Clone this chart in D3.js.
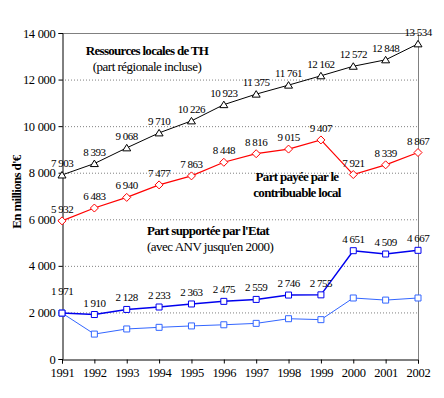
<!DOCTYPE html>
<html>
<head>
<meta charset="utf-8">
<script src="https://cdn.jsdelivr.net/npm/d3@7"></script>
<style>
  body { margin: 0; background: #fff; }
</style>
</head>
<body>
<svg id="chart"></svg>
<script>
const years = [1991, 1992, 1993, 1994, 1995, 1996, 1997, 1998, 1999, 2000, 2001, 2002];
const ressources = [7903, 8393, 9068, 9710, 10226, 10923, 11375, 11761, 12162, 12572, 12848, 13534];
const contribuable = [5932, 6483, 6940, 7477, 7863, 8448, 8816, 9015, 9407, 7921, 8339, 8867];
const etat = [1971, 1910, 2128, 2233, 2363, 2475, 2559, 2746, 2755, 4651, 4509, 4667];
const etatHorsAnv = [1971, 1070, 1290, 1360, 1420, 1470, 1530, 1730, 1690, 2620, 2530, 2620];
const yTicks = [0, 2000, 4000, 6000, 8000, 10000, 12000, 14000];

const width = 444, height = 398;
const margin = { top: 33, right: 26, bottom: 39, left: 62 };
const FONT = "'Liberation Serif', 'Times New Roman', Tinos, serif";

const svg = d3.select('#chart').attr('width', width).attr('height', height).attr('font-family', FONT);

const x = d3.scaleLinear().domain([1991, 2002]).range([margin.left, width - margin.right]);
const y = d3.scaleLinear().domain([0, 14000]).range([height - margin.bottom, margin.top]);

// french number format, space as thousands separator
const fmt = d3.formatLocale({ decimal: ',', thousands: ' ', grouping: [3], currency: ['', ' €'] }).format(',d');

// dotted gridlines
svg.append('g')
    .selectAll('line')
    .data(yTicks.filter((d) => d > 0 && d < 14000))
    .enter()
    .append('line')
    .attr('x1', margin.left)
    .attr('x2', width - margin.right)
    .attr('y1', (d) => y(d) + 0.5)
    .attr('y2', (d) => y(d) + 0.5)
    .attr('stroke', '#808080')
    .attr('stroke-dasharray', '1,2');

// plot area border (top & right, grey)
svg.append('path')
    .attr('d', `M${margin.left},${y(14000) + 0.5}H${width - margin.right + 0.5}V${y(0)}`)
    .attr('fill', 'none')
    .attr('stroke', '#808080');

// axes
const yAxis = svg.append('g')
    .attr('transform', `translate(${margin.left + 0.5},0)`)
    .call(d3.axisLeft(y).tickValues(yTicks).tickFormat(fmt).tickSize(4).tickPadding(3));
const xAxis = svg.append('g')
    .attr('transform', `translate(0,${y(0) + 0.5})`)
    .call(d3.axisBottom(x).tickValues(years).tickFormat(d3.format('d')).tickSize(4).tickPadding(5));

[yAxis, xAxis].forEach((g) => {
    g.attr('font-family', FONT).attr('font-size', 12.5);
    g.selectAll('path, line').attr('stroke', '#000');
    g.selectAll('text').attr('fill', '#000').attr('letter-spacing', '-0.3px');
});

// markers
const tri = 'M0,-3.5L4,3L-4,3Z';
const diamond = 'M0,-4L4,0L0,4L-4,0Z';
const square = 'M-3,-3H3V3H-3Z';

const series = [
    { values: ressources, color: '#000000', width: 1, marker: tri, labels: true },
    { values: contribuable, color: '#FF0000', width: 1.2, marker: diamond, labels: true },
    { values: etatHorsAnv, color: '#3366FF', width: 1, marker: square, labels: false },
    { values: etat, color: '#0000EE', width: 1.5, marker: square, labels: true },
];

const line = d3.line().x((d, i) => x(years[i])).y((d) => y(d));

series.forEach((s) => {
    const g = svg.append('g');
    g.append('path')
        .datum(s.values)
        .attr('d', line)
        .attr('fill', 'none')
        .attr('stroke', s.color)
        .attr('stroke-width', s.width);
    g.selectAll('.mk')
        .data(s.values)
        .enter()
        .append('path')
        .attr('class', 'mk')
        .attr('transform', (d, i) => `translate(${x(years[i])},${y(d)})`)
        .attr('d', s.marker)
        .attr('fill', '#fff')
        .attr('stroke', s.color)
        .attr('stroke-width', 1);
    if (s.labels) {
        g.selectAll('.lbl')
            .data(s.values)
            .enter()
            .append('text')
            .attr('class', 'lbl')
            .attr('x', (d, i) => x(years[i]))
            .attr('y', (d, i) => y(d) - (s.values === etat && i === 0 ? 18 : 8))
            .attr('text-anchor', 'middle')
            .attr('font-size', 11)
            .attr('letter-spacing', '-0.5px')
            .attr('fill', '#000')
            .text((d) => fmt(d));
    }
});

// annotations
function note(lines, xPos, yPos, anchor) {
    const t = svg.append('text').attr('text-anchor', anchor).attr('fill', '#000');
    lines.forEach((l, i) => {
        t.append('tspan')
            .attr('x', xPos)
            .attr('y', yPos + i * 16)
            .attr('font-weight', l.bold ? 'bold' : 'normal')
            .attr('font-size', 13)
            .attr('letter-spacing', l.bold ? '-0.7px' : '-0.5px')
            .text(l.text);
    });
}

note([{ text: 'Ressources locales de TH', bold: true }, { text: '(part régionale incluse)' }], 147, 55, 'middle');
note([{ text: 'Part payée par le', bold: true }, { text: 'contribuable local', bold: true }], 297, 181, 'middle');
note([{ text: "Part supportée par l'Etat", bold: true }, { text: "(avec ANV jusqu'en 2000)" }], 147, 235, 'start');

// y axis title
svg.append('text')
    .attr('transform', 'translate(21,192) rotate(-90)')
    .attr('text-anchor', 'middle')
    .attr('font-weight', 'bold')
    .attr('font-size', 13)
    .attr('letter-spacing', '-0.7px')
    .attr('fill', '#000')
    .text("En millions d'€");
</script>
</body>
</html>
